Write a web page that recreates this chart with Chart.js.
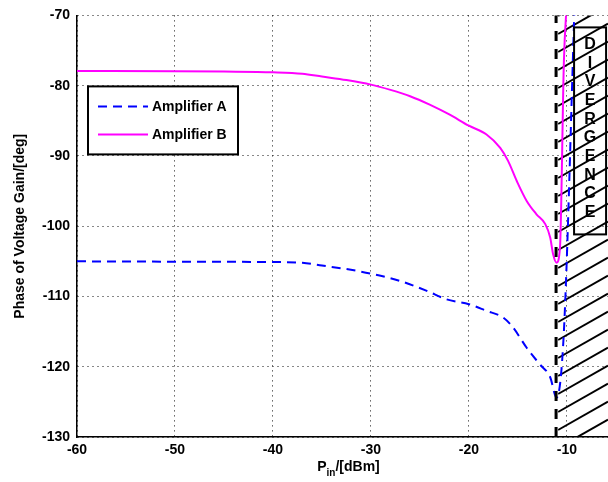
<!DOCTYPE html>
<html>
<head>
<meta charset="utf-8">
<script src="https://cdn.jsdelivr.net/npm/chart.js@4"></script>
<style>
  html, body { margin: 0; padding: 0; background: #fff; }
  #wrap { width: 608px; height: 482px; }
</style>
</head>
<body>
<div id="wrap"><canvas id="phaseChart" width="608" height="482"></canvas></div>
<script>
// input power [dBm] and phase [deg]
const pinA = [-60, -50, -40, -37, -35, -32.5, -30, -27, -24.3, -22.3, -20, -18.2, -16.5, -15.5, -14.1, -12.8, -11.7, -11.05, -10.3, -9.2];
const phaseA = [-105.0, -105.05, -105.1, -105.2, -105.6, -106.1, -106.75, -107.8, -109.2, -110.4, -111.1, -112.05, -113.0, -114.4, -117.3, -119.6, -121.5, -124.4, -114.9, -68];

const pinB = [-60, -50, -45, -40, -37, -35, -32.5, -30, -28, -26, -24, -22, -20, -18.2, -16.8, -16, -15.1, -14.1, -13.1, -12.2, -11.7, -11.4, -11.05, -10.7, -10.3, -10.0];
const phaseB = [-77.9, -77.95, -78.0, -78.1, -78.3, -78.7, -79.2, -79.85, -80.6, -81.5, -82.7, -84.1, -85.7, -86.95, -88.85, -90.7, -93.6, -96.4, -98.3, -99.7, -101.6, -104.0, -105.2, -103.0, -76.5, -68];

const seriesNames = ["Amplifier A", "Amplifier B"];
const xTicks = [-60, -50, -40, -30, -20, -10];
const yTicks = [-130, -120, -110, -100, -90, -80, -70];
const xRange = [-60, -5.8];
const yRange = [-130, -70];
const divergenceStart = -11.1;
const divergenceText = "DIVERGENCE";

const FONT = "'Liberation Sans', Arial, sans-serif";

function toPoints(xs, ys) {
    return xs.map((x, i) => ({ x: x, y: ys[i] }));
}

// hatched divergence zone, dashed boundary and lettered box
const divergencePlugin = {
    id: "divergence",
    beforeDatasetsDraw(chart) {
        const { ctx, chartArea, scales } = chart;
        const x0 = scales.x.getPixelForValue(divergenceStart) + 2;
        const right = chartArea.right;
        ctx.save();
        ctx.beginPath();
        ctx.rect(x0, chartArea.top, right - x0, chartArea.bottom - chartArea.top);
        ctx.clip();
        ctx.strokeStyle = "#000";
        ctx.lineWidth = 2;
        const slope = 0.57;
        const step = 18;
        for (let y = chartArea.bottom - 7 + step * 4; y > chartArea.top - 10; y -= step) {
            ctx.beginPath();
            ctx.moveTo(x0, y);
            ctx.lineTo(right, y - slope * (right - x0));
            ctx.stroke();
        }
        ctx.restore();
    },
    afterDatasetsDraw(chart) {
        const { ctx, chartArea, scales } = chart;
        const x0 = scales.x.getPixelForValue(divergenceStart);
        ctx.save();
        ctx.strokeStyle = "#000";
        ctx.lineWidth = 3;
        ctx.setLineDash([10, 8]);
        ctx.beginPath();
        ctx.moveTo(x0, chartArea.bottom);
        ctx.lineTo(x0, chartArea.top);
        ctx.stroke();
        ctx.setLineDash([]);

        // box with vertical lettering
        const bx = x0 + 18, by = chartArea.top + 12, bw = 32, bh = 207;
        ctx.lineWidth = 2;
        ctx.strokeRect(bx, by, bw, bh);
        ctx.fillStyle = "#000";
        ctx.font = "bold 16px " + FONT;
        ctx.textAlign = "center";
        ctx.textBaseline = "middle";
        for (let i = 0; i < divergenceText.length; i++) {
            ctx.fillText(divergenceText[i], bx + bw / 2, by + 17 + i * 18.7);
        }
        ctx.restore();
    }
};

// legend box inside the plot and axis titles
const decorPlugin = {
    id: "decor",
    afterDraw(chart) {
        const { ctx, chartArea } = chart;
        ctx.save();
        const lx = chartArea.left + 11, ly = chartArea.top + 71, lw = 150, lh = 68;
        ctx.fillStyle = "#fff";
        ctx.fillRect(lx, ly, lw, lh);
        ctx.strokeStyle = "#000";
        ctx.lineWidth = 2;
        ctx.strokeRect(lx, ly, lw, lh);
        chart.data.datasets.forEach((ds, i) => {
            const yy = ly + 20 + i * 28;
            ctx.strokeStyle = ds.borderColor;
            ctx.lineWidth = 2;
            ctx.setLineDash(ds.borderDash || []);
            ctx.beginPath();
            ctx.moveTo(lx + 10, yy);
            ctx.lineTo(lx + 60, yy);
            ctx.stroke();
            ctx.setLineDash([]);
            ctx.fillStyle = "#000";
            ctx.font = "bold 14px " + FONT;
            ctx.textAlign = "left";
            ctx.textBaseline = "middle";
            ctx.fillText(ds.label, lx + 64, yy + 1);
        });

        // y title
        ctx.fillStyle = "#000";
        ctx.font = "bold 14px " + FONT;
        ctx.textAlign = "center";
        ctx.textBaseline = "middle";
        ctx.save();
        ctx.translate(20, (chartArea.top + chartArea.bottom) / 2);
        ctx.rotate(-Math.PI / 2);
        ctx.fillText("Phase of Voltage Gain/[deg]", 0, 0);
        ctx.restore();

        // x title with subscript
        const cx = (chartArea.left + chartArea.right) / 2 + 6;
        const ty = chartArea.bottom + 34;
        ctx.textAlign = "left";
        ctx.textBaseline = "alphabetic";
        ctx.font = "bold 14px " + FONT;
        const wP = ctx.measureText("P").width;
        const wRest = ctx.measureText("/[dBm]").width;
        ctx.font = "bold 10px " + FONT;
        const wSub = ctx.measureText("in").width;
        let x = cx - (wP + wSub + wRest) / 2;
        ctx.font = "bold 14px " + FONT;
        ctx.fillText("P", x, ty);
        x += wP;
        ctx.font = "bold 10px " + FONT;
        ctx.fillText("in", x, ty + 5);
        x += wSub;
        ctx.font = "bold 14px " + FONT;
        ctx.fillText("/[dBm]", x, ty);
        ctx.restore();
    }
};

new Chart(document.getElementById("phaseChart").getContext("2d"), {
    type: "line",
    data: {
        datasets: [{
            label: seriesNames[0],
            data: toPoints(pinA, phaseA),
            borderColor: "#0000ff",
            borderWidth: 2,
            borderDash: [9, 6],
            pointRadius: 0,
            fill: false,
            cubicInterpolationMode: "monotone"
        }, {
            label: seriesNames[1],
            data: toPoints(pinB, phaseB),
            borderColor: "#ff00ff",
            borderWidth: 2,
            pointRadius: 0,
            fill: false,
            cubicInterpolationMode: "monotone"
        }]
    },
    options: {
        responsive: false,
        animation: false,
        events: [],
        layout: { padding: { top: 14, right: 0, left: 0, bottom: 0 } },
        plugins: {
            legend: { display: false },
            tooltip: { enabled: false }
        },
        scales: {
            x: {
                type: "linear",
                min: xRange[0],
                max: xRange[1],
                afterBuildTicks: s => { s.ticks = xTicks.map(v => ({ value: v })); },
                afterFit: s => { s.height = 45; },
                grid: { color: "#111", lineWidth: 1, drawTicks: false },
                border: { display: true, color: "#000", width: 1.5, dash: [1, 4] },
                ticks: {
                    color: "#000",
                    padding: 5,
                    maxRotation: 0,
                    font: { family: FONT, size: 14, weight: "bold" }
                }
            },
            y: {
                type: "linear",
                min: yRange[0],
                max: yRange[1],
                afterBuildTicks: s => { s.ticks = yTicks.map(v => ({ value: v })); },
                afterFit: s => { s.width = 77; },
                grid: { color: "#111", lineWidth: 1, drawTicks: false },
                border: { display: true, color: "#000", width: 1.5, dash: [1, 4] },
                ticks: {
                    color: "#000",
                    padding: 7,
                    font: { family: FONT, size: 14, weight: "bold" }
                }
            }
        }
    },
    plugins: [divergencePlugin, decorPlugin]
});
</script>
</body>
</html>
